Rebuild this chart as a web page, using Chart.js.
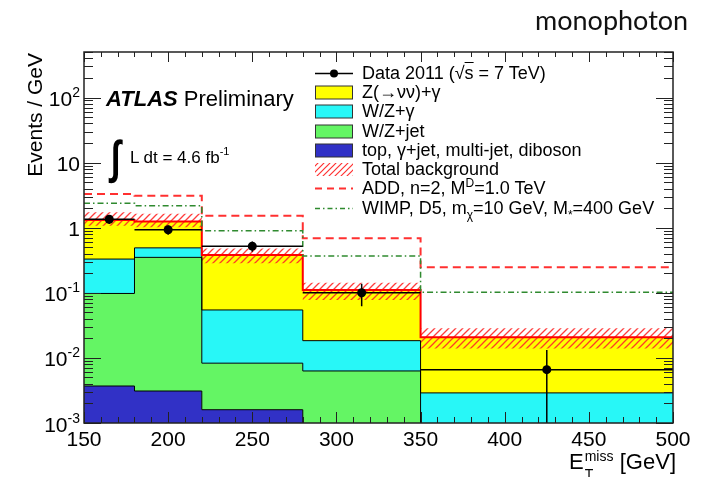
<!DOCTYPE html>
<html>
<head>
<meta charset="utf-8">
<script src="https://cdn.jsdelivr.net/npm/chart.js@4.4.0/dist/chart.umd.min.js"></script>
<style>
  html, body { margin: 0; padding: 0; background: #fff; }
  #wrap { position: relative; width: 702px; height: 477px; font-family: "Liberation Sans", Arial, sans-serif; color: #000; }
  #c { position: absolute; left: 0; top: 0; }
  .t { position: absolute; white-space: nowrap; line-height: 1; }
  .row { position: absolute; left: 314px; height: 19px; line-height: 19px; font-size: 18px; white-space: nowrap; }
  .row svg { position: absolute; left: 0; top: 1px; }
  .row span.lab { position: absolute; left: 48px; top: 0; }
  sub, sup { font-size: 12px; line-height: 0; }
  sub { vertical-align: -5px; }
  sup { vertical-align: 7px; }
</style>
</head>
<body>
<div id="wrap">
  <canvas id="c" width="702" height="477"></canvas>

  <div class="t" style="left:535px;top:6px;font-family:Lato,sans-serif;font-size:27px;color:#111">monophoton</div>

  <div class="t" style="left:106px;top:88px;font-size:22px"><b><i>ATLAS</i></b> Preliminary</div>
  <div class="t" style="left:111px;top:134px;font-size:30px;font-weight:bold;transform:scale(1.15,1.55);transform-origin:0 0">&int;</div>
  <div class="t" style="left:130px;top:146px;font-size:17px">L dt = 4.6 fb<span style="font-size:11px;vertical-align:8px">-1</span></div>

  <div id="legend"></div>

  <div class="t" style="right:26px;top:451px;font-size:22px">E<span style="display:inline-block;position:relative;width:30px;height:10px"><span style="position:absolute;left:1px;top:-10px;font-size:14px">miss</span><span style="position:absolute;left:1px;top:8px;font-size:14px">T</span></span> [GeV]</div>
</div>

<script>
// bin edges (GeV) and axis ticks
const binEdges = [150, 180, 220, 280, 350, 500];
const binCenters = [165, 200, 250, 315, 425];
const xTicks = [150, 200, 250, 300, 350, 400, 450, 500];
const yTicks = [0.001, 0.01, 0.1, 1, 10, 100];
const yTickLabels = [['10', '-3'], ['10', '-2'], ['10', '-1'], ['1', ''], ['10', ''], ['10', '2']];

// backgrounds, events / GeV per bin (stacked bottom -> top)
const bkgOther   = [0.0037, 0.0031, 0.0016, 0, 0];        // top, gamma+jet, multi-jet, diboson
const bkgWZjet   = [0.094, 0.347, 0.0067, 0.0063, 0];
const bkgWZgamma = [0.232, 0.14, 0.0462, 0.0121, 0.0029];
const bkgZnunu   = [0.98, 0.76, 0.325, 0.092, 0.0178];
// total background uncertainty band
const bandHi = [1.72, 1.64, 0.48, 0.143, 0.0285];
const bandLo = [1.07, 1.02, 0.284, 0.0775, 0.0140];
// signals
const sigADD  = [3.29, 3.10, 1.53, 0.687, 0.247];
const sigWIMP = [2.37, 2.18, 0.90, 0.367, 0.102];
// data
const dataVal = [1.35, 0.93, 0.52, 0.10, 0.0066];
const dataErr = [0.21, 0.15, 0.093, 0.038, 0.0066];

const FLOOR = 1e-4; // below the axis, used for empty stack entries
const FONT = '"Liberation Sans", Arial, sans-serif';

function cumulate(parts) {
  return parts[0].map((_, i) => parts.reduce((s, p) => s + p[i], 0));
}
function steps(vals) {
  const pts = vals.map((v, i) => ({ x: binEdges[i], y: Math.max(v, FLOOR) }));
  pts.push({ x: binEdges[binEdges.length - 1], y: Math.max(vals[vals.length - 1], FLOOR) });
  return pts;
}

const top1 = cumulate([bkgOther]);
const top2 = cumulate([bkgOther, bkgWZjet]);
const top3 = cumulate([bkgOther, bkgWZjet, bkgWZgamma]);
const top4 = cumulate([bkgOther, bkgWZjet, bkgWZgamma, bkgZnunu]);

// red hatch for the uncertainty band
function hatch() {
  const s = 7, cv = document.createElement('canvas');
  cv.width = s; cv.height = s;
  const g = cv.getContext('2d');
  g.strokeStyle = 'rgba(255,40,40,0.9)';
  g.lineWidth = 1.3;
  g.beginPath();
  g.moveTo(0, s); g.lineTo(s, 0);
  g.moveTo(-1, 1); g.lineTo(1, -1);
  g.moveTo(s - 1, s + 1); g.lineTo(s + 1, s - 1);
  g.stroke();
  return g.createPattern(cv, 'repeat');
}

const C = {
  yellow: '#ffff00', cyan: '#28f7f7', green: '#64f564', blue: '#3131c6',
  red: '#ff0000', add: '#ff3030', wimp: '#2f8a2f'
};

// frame, inner ticks, tick labels, y title
const frameTicks = {
  id: 'frameTicks',
  afterDatasetsDraw(chart) {
    const { ctx, chartArea: a, scales: { x, y } } = chart;
    ctx.save();
    ctx.strokeStyle = '#222';
    ctx.lineWidth = 1;
    ctx.beginPath();
    for (let v = 150; v <= 500; v += 10) {
      const px = Math.round(x.getPixelForValue(v)) + 0.5;
      const major = v % 50 === 0;
      ctx.moveTo(px, a.bottom); ctx.lineTo(px, a.bottom - (major ? 11 : 6));
      ctx.moveTo(px, a.top); ctx.lineTo(px, a.top + (major ? 10 : 5));
    }
    for (let d = -3; d <= 2; d++) {
      for (let k = 1; k <= 9; k++) {
        const v = k * Math.pow(10, d);
        if (v > 500) break;
        const py = Math.round(y.getPixelForValue(v)) + 0.5;
        const len = k === 1 ? 17 : 9;
        ctx.moveTo(a.left, py); ctx.lineTo(a.left + len, py);
        ctx.moveTo(a.right, py); ctx.lineTo(a.right - len, py);
      }
    }
    ctx.stroke();
    ctx.lineWidth = 1.5;
    ctx.strokeRect(a.left, a.top, a.right - a.left, a.bottom - a.top);

    ctx.fillStyle = '#000';
    ctx.textBaseline = 'alphabetic';
    ctx.font = '21px ' + FONT;
    ctx.textAlign = 'center';
    xTicks.forEach(v => ctx.fillText(String(v), x.getPixelForValue(v), 446));

    ctx.textAlign = 'left';
    yTicks.forEach((v, i) => {
      const py = y.getPixelForValue(v);
      const [base, exp] = yTickLabels[i];
      ctx.font = '14px ' + FONT;
      const we = exp ? ctx.measureText(exp).width : 0;
      ctx.font = '21px ' + FONT;
      const wb = ctx.measureText(base).width;
      const xr = 80;
      ctx.fillText(base, xr - we - wb, py + 8.5);
      if (exp) {
        ctx.font = '14px ' + FONT;
        ctx.fillText(exp, xr - we, py - 0.5);
      }
    });

    ctx.translate(42, 53);
    ctx.rotate(-Math.PI / 2);
    ctx.textAlign = 'right';
    ctx.font = '21px ' + FONT;
    ctx.fillText('Events / GeV', 0, 0);
    ctx.restore();
  }
};

// data error bars (x: bin width, y: stat error)
const errorBars = {
  id: 'errorBars',
  afterDatasetsDraw(chart) {
    const { ctx, chartArea: a, scales: { x, y } } = chart;
    ctx.save();
    ctx.strokeStyle = '#000';
    ctx.lineWidth = 1.5;
    ctx.beginPath();
    dataVal.forEach((v, i) => {
      const py = y.getPixelForValue(v);
      const px = x.getPixelForValue(binCenters[i]);
      ctx.moveTo(x.getPixelForValue(binEdges[i]), py);
      ctx.lineTo(x.getPixelForValue(binEdges[i + 1]), py);
      const lo = v - dataErr[i];
      ctx.moveTo(px, y.getPixelForValue(v + dataErr[i]));
      ctx.lineTo(px, lo > 0.001 ? y.getPixelForValue(lo) : a.bottom);
    });
    ctx.stroke();
    ctx.restore();
  }
};

const stackLine = (pts, fill, bg, border, bw, order) => ({
  data: steps(pts), stepped: true, fill, backgroundColor: bg,
  borderColor: border, borderWidth: bw, pointRadius: 0, order
});

new Chart(document.getElementById('c'), {
  type: 'line',
  data: {
    datasets: [
      stackLine(top1, 'start', C.blue, '#000', 1, 10),
      stackLine(top2, '-1', C.green, '#000', 1, 9),
      stackLine(top3, '-1', C.cyan, '#000', 1, 8),
      stackLine(top4, '-1', C.yellow, C.red, 2, 7),
      stackLine(bandHi, '+1', hatch(), 'rgba(0,0,0,0)', 0, 6),
      stackLine(bandLo, false, 'rgba(0,0,0,0)', 'rgba(0,0,0,0)', 0, 5),
      Object.assign(stackLine(sigADD, false, 'rgba(0,0,0,0)', C.add, 2, 3), { borderDash: [8, 5] }),
      Object.assign(stackLine(sigWIMP, false, 'rgba(0,0,0,0)', C.wimp, 1.5, 2), { borderDash: [6, 3, 1.5, 3] }),
      {
        data: dataVal.map((v, i) => ({ x: binCenters[i], y: v })),
        showLine: false, pointRadius: 4.5, pointBackgroundColor: '#000',
        pointBorderWidth: 0, order: 0
      }
    ]
  },
  options: {
    responsive: false,
    animation: false,
    layout: { padding: { left: 84, right: 29, top: 52, bottom: 54 } },
    plugins: {
      legend: { display: false },
      tooltip: { enabled: false },
      filler: { drawTime: 'beforeDatasetsDraw' }
    },
    scales: {
      x: { type: 'linear', min: 150, max: 500, display: false },
      y: { type: 'logarithmic', min: 0.001, max: 500, display: false }
    }
  },
  plugins: [errorBars, frameTicks]
});

// legend
const legendRows = [
  { kind: 'data', text: 'Data 2011 (&radic;<span style="text-decoration:overline">s</span> = 7 TeV)' },
  { kind: 'box', color: C.yellow, text: 'Z(&rarr;&nu;&nu;)+&gamma;' },
  { kind: 'box', color: C.cyan, text: 'W/Z+&gamma;' },
  { kind: 'box', color: C.green, text: 'W/Z+jet' },
  { kind: 'box', color: C.blue, text: 'top, &gamma;+jet, multi-jet, diboson' },
  { kind: 'hatch', text: 'Total background' },
  { kind: 'dash', color: C.add, dash: '7 5', width: 2, text: 'ADD, n=2, M<sup>D</sup>=1.0 TeV' },
  { kind: 'dash', color: C.wimp, dash: '5 3 1.5 3', width: 1.5, text: 'WIMP, D5, m<sub>&chi;</sub>=10 GeV, M<sub>*</sub>=400 GeV' }
];
const leg = document.getElementById('legend');
legendRows.forEach((r, i) => {
  const yc = 73.3 + i * 19.28;
  let sw = '';
  if (r.kind === 'data') {
    sw = '<line x1="1" y1="8.5" x2="39" y2="8.5" stroke="#000" stroke-width="1.5"/><circle cx="20" cy="8.5" r="4" fill="#000"/>';
  } else if (r.kind === 'box') {
    sw = `<rect x="1.5" y="2" width="37" height="13" fill="${r.color}" stroke="#333" stroke-width="1"/>`;
  } else if (r.kind === 'hatch') {
    sw = '<defs><pattern id="hp" width="6" height="6" patternUnits="userSpaceOnUse"><path d="M0,6 L6,0 M-1,1 L1,-1 M5,7 L7,5" stroke="#ff3030" stroke-width="1.2"/></pattern></defs><rect x="1" y="2" width="38" height="13" fill="url(#hp)"/>';
  } else {
    sw = `<line x1="1" y1="8.5" x2="39" y2="8.5" stroke="${r.color}" stroke-width="${r.width}" stroke-dasharray="${r.dash}"/>`;
  }
  const d = document.createElement('div');
  d.className = 'row';
  d.style.top = (yc - 9.5) + 'px';
  d.innerHTML = `<svg width="40" height="17">${sw}</svg><span class="lab">${r.text}</span>`;
  leg.appendChild(d);
});
</script>
</body>
</html>
